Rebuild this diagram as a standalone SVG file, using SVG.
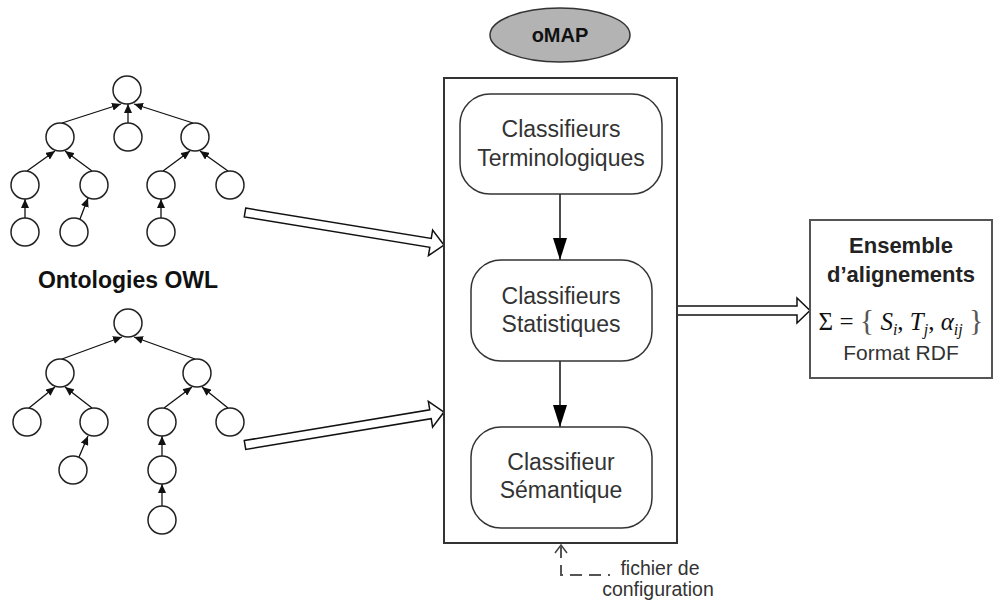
<svg xmlns="http://www.w3.org/2000/svg" width="1000" height="604" viewBox="0 0 1000 604">
<defs>
<style>
.nd{fill:#fff;stroke:#222;stroke-width:1.5}
.ed{stroke:#111;stroke-width:1.3;fill:none;marker-end:url(#ah)}
.box{fill:#fff;stroke:#333;stroke-width:1.5}
.cls{font-family:"Liberation Sans",Arial,sans-serif;font-size:23px;fill:#333;text-anchor:middle}
.blk{fill:#fff;stroke:#111;stroke-width:1.5;stroke-linejoin:miter}
.math{font-family:"Liberation Serif","Times New Roman",serif;font-size:25px;fill:#111}
</style>
<marker id="ah" markerUnits="userSpaceOnUse" markerWidth="10" markerHeight="8" refX="9" refY="4" orient="auto"><path d="M0,0 L9,4 L0,8 z" fill="#111"/></marker>
<marker id="ah2" markerUnits="userSpaceOnUse" markerWidth="22" markerHeight="14" refX="22" refY="7" orient="auto"><path d="M0,0 L22,7 L0,14 z" fill="#000"/></marker>
</defs>
<rect width="1000" height="604" fill="#fff"/>

<g id="connectors">
<line class="ed" x1="62" y1="123" x2="121" y2="104"/>
<line class="ed" x1="128" y1="123" x2="128" y2="104"/>
<line class="ed" x1="193" y1="123" x2="134" y2="104"/>
<line class="ed" x1="27" y1="171" x2="55" y2="151"/>
<line class="ed" x1="92" y1="171" x2="65" y2="151"/>
<line class="ed" x1="163" y1="171" x2="190" y2="151"/>
<line class="ed" x1="228" y1="171" x2="200" y2="151"/>
<line class="ed" x1="25" y1="218" x2="25" y2="199"/>
<line class="ed" x1="80" y1="219" x2="88" y2="198"/>
<line class="ed" x1="161" y1="218" x2="161" y2="199"/>
<line class="ed" x1="62" y1="359" x2="122" y2="337"/>
<line class="ed" x1="195" y1="359" x2="134" y2="337"/>
<line class="ed" x1="29" y1="408" x2="55" y2="387"/>
<line class="ed" x1="92" y1="408" x2="65" y2="387"/>
<line class="ed" x1="164" y1="408" x2="192" y2="387"/>
<line class="ed" x1="228" y1="408" x2="202" y2="387"/>
<line class="ed" x1="79" y1="457" x2="88" y2="436"/>
<line class="ed" x1="162" y1="456" x2="162" y2="436"/>
<line class="ed" x1="162" y1="506" x2="162" y2="484"/>
<g transform="translate(245,212.5) rotate(9.28)"><polygon class="blk" points="0,-4.5 188,-4.5 188,-13 201.6,0 188,13 188,4.5 0,4.5"/></g>
<g transform="translate(245,445) rotate(-9.4)"><polygon class="blk" points="0,-4.5 188,-4.5 188,-13 201.7,0 188,13 188,4.5 0,4.5"/></g>
<polygon class="blk" points="677,306 797,306 797,298 810,310.5 797,323 797,315 677,315"/>
<line x1="560" y1="194" x2="560" y2="260" stroke="#111" stroke-width="1.5" marker-end="url(#ah2)"/>
<line x1="560" y1="361" x2="560" y2="427" stroke="#111" stroke-width="1.5" marker-end="url(#ah2)"/>
<polyline points="555,553 561,545 567,553" fill="none" stroke="#444" stroke-width="1.5"/>
<path d="M561,546 L561,575 L610,575" fill="none" stroke="#555" stroke-width="2" stroke-dasharray="12,7"/>
</g>

<g id="tree1">
<circle class="nd" cx="127" cy="90" r="14"/>
<circle class="nd" cx="60" cy="137" r="14"/>
<circle class="nd" cx="128" cy="137" r="14"/>
<circle class="nd" cx="195" cy="137" r="14"/>
<circle class="nd" cx="25" cy="185" r="14"/>
<circle class="nd" cx="94" cy="185" r="14"/>
<circle class="nd" cx="161" cy="185" r="14"/>
<circle class="nd" cx="230" cy="185" r="14"/>
<circle class="nd" cx="25" cy="232" r="14"/>
<circle class="nd" cx="74" cy="232" r="14"/>
<circle class="nd" cx="161" cy="232" r="14"/>
</g>

<g id="label-ontologies">
<text x="128" y="288" font-family="'Liberation Sans',Arial,sans-serif" font-size="23" font-weight="bold" fill="#111" text-anchor="middle">Ontologies OWL</text>
</g>

<g id="tree2">
<circle class="nd" cx="128" cy="323" r="14"/>
<circle class="nd" cx="60" cy="373" r="14"/>
<circle class="nd" cx="197" cy="373" r="14"/>
<circle class="nd" cx="27" cy="422" r="14"/>
<circle class="nd" cx="94" cy="422" r="14"/>
<circle class="nd" cx="162" cy="422" r="14"/>
<circle class="nd" cx="230" cy="422" r="14"/>
<circle class="nd" cx="73" cy="470" r="14"/>
<circle class="nd" cx="162" cy="470" r="14"/>
<circle class="nd" cx="162" cy="520" r="14"/>
</g>

<g id="omap">
<ellipse cx="560" cy="35" rx="70" ry="27" fill="#b3b3b3" stroke="#333" stroke-width="1.5"/>
<text x="560" y="42" font-family="'Liberation Sans',Arial,sans-serif" font-size="20" font-weight="bold" fill="#111" text-anchor="middle">oMAP</text>
</g>

<g id="omap-box">
<rect x="444" y="78" width="233" height="465" fill="none" stroke="#333" stroke-width="2"/>
</g>

<g id="terminologiques">
<rect class="box" x="460" y="94" width="202" height="100" rx="30"/>
<text class="cls" x="561" y="137">Classifieurs</text>
<text class="cls" x="561" y="166">Terminologiques</text>
</g>

<g id="statistiques">
<rect class="box" x="471" y="260" width="181" height="101" rx="30"/>
<text class="cls" x="561" y="304">Classifieurs</text>
<text class="cls" x="561" y="332">Statistiques</text>
</g>

<g id="semantique">
<rect class="box" x="471" y="427" width="181" height="101" rx="30"/>
<text class="cls" x="561" y="470">Classifieur</text>
<text class="cls" x="561" y="498">Sémantique</text>
</g>

<g id="config">
<text x="660" y="575" font-family="'Liberation Sans',Arial,sans-serif" font-size="19.5" fill="#333" text-anchor="middle">fichier de</text>
<text x="658" y="596" font-family="'Liberation Sans',Arial,sans-serif" font-size="19.5" fill="#333" text-anchor="middle">configuration</text>
</g>

<g id="alignements">
<rect x="810" y="220" width="182" height="158" fill="#fff" stroke="#555" stroke-width="2"/>
<text x="901" y="253" font-family="'Liberation Sans',Arial,sans-serif" font-size="22" font-weight="bold" fill="#222" text-anchor="middle">Ensemble</text>
<text x="901" y="282" font-family="'Liberation Sans',Arial,sans-serif" font-size="22" font-weight="bold" fill="#222" text-anchor="middle">d’alignements</text>
<text class="math" x="901" y="330" text-anchor="middle">Σ = <tspan font-size="30" fill="#555">{</tspan> <tspan font-style="italic">S</tspan><tspan font-style="italic" font-size="16" dy="5">i</tspan><tspan dy="-5">, </tspan><tspan font-style="italic">T</tspan><tspan font-style="italic" font-size="16" dy="5">j</tspan><tspan dy="-5">, </tspan><tspan font-style="italic">α</tspan><tspan font-style="italic" font-size="16" dy="5">ij</tspan><tspan dy="-5"> </tspan><tspan font-size="30" fill="#555">}</tspan></text>
<text x="901" y="360" font-family="'Liberation Sans',Arial,sans-serif" font-size="21" fill="#333" text-anchor="middle">Format RDF</text>
</g>
</svg>
